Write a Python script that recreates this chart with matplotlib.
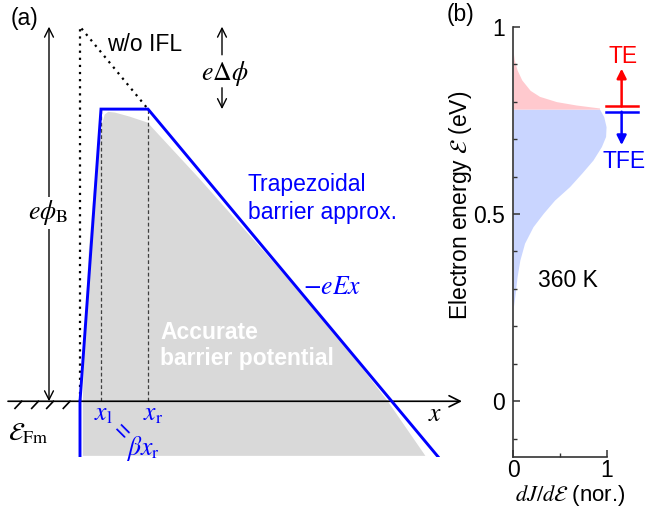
import matplotlib
matplotlib.use('Agg')
import matplotlib.pyplot as plt

plt.rcParams['font.family'] = ['Liberation Sans', 'DejaVu Sans']
plt.rcParams['mathtext.fontset'] = 'stix'

W, H = 646, 509
FS = 16.5

# ---------------- Panel (a): schematic barrier (x: arb. length units, E: eV) -------------
trap_x = [0, 0, 21, 68, 358]
trap_y = [-0.148, 0.0, 0.78, 0.78, -0.148]
acc_x = [2, 2, 4, 8, 13, 17, 21, 24, 28, 35, 50, 68, 120, 190, 250, 308, 347]
acc_y = [-0.148, 0.003, 0.19, 0.404, 0.564, 0.652, 0.738, 0.767, 0.775, 0.773,
         0.762, 0.746, 0.596, 0.385, 0.203, 0.003, -0.148]
noifl_x = [0, 0, 68]
noifl_y = [0.0, 1.0, 0.78]
x_l, x_r = 21, 68
barrier_top = 0.78
phiB = 1.0
hatch_x = [-65, -48.3, -33.3, -16.7]

# ---------------- Panel (b): energy distribution ------------------------------------------
te_E = [0.78, 0.783, 0.791, 0.80, 0.814, 0.83, 0.858, 0.885, 0.912, 0.93]
te_J = [0.92, 0.92, 0.67, 0.46, 0.28, 0.18, 0.09, 0.04, 0.01, 0.0]
tfe_E = [0.25, 0.288, 0.332, 0.377, 0.422, 0.466, 0.502, 0.537, 0.573, 0.609,
         0.644, 0.68, 0.707, 0.733, 0.76, 0.78]
tfe_J = [0.0, 0.02, 0.04, 0.07, 0.12, 0.21, 0.32, 0.44, 0.6, 0.73,
         0.85, 0.94, 0.985, 0.99, 0.965, 0.92]
yticks_major = [0, 0.5, 1]
yticklabels = ['0', '0.5', '1']
yticks_minor = [-0.1, 0.1, 0.2, 0.3, 0.4, 0.6, 0.7, 0.8, 0.9]
xticks_major = [0, 1]
xticklabels = ['0', '1']
xticks_minor = [0.5]

BLUE = '#0000FF'
RED = '#FF0000'
YMIN, YMAX = -0.148, 1.0

fig = plt.figure(figsize=(W / 100, H / 100), dpi=100)

# ---- panel (a)
ax = fig.add_axes([0, (H - 456.7) / H, 470 / W, 430 / H])
ax.set_xlim(-80, 390)
ax.set_ylim(YMIN, YMAX)
ax.axis('off')

ax.fill(acc_x, acc_y, facecolor='#D9D9D9', edgecolor='white', lw=1.2, zorder=1)
ax.plot([x_l, x_l], [0, barrier_top], color='#404040', lw=0.9, ls=(0, (3, 2)), zorder=2)
ax.plot([x_r, x_r], [0, barrier_top], color='#404040', lw=0.9, ls=(0, (3, 2)), zorder=2)
ax.plot(noifl_x, noifl_y, color='black', lw=1.6, ls=(0, (1, 2.2)), zorder=2)

ax.annotate('', xy=(382, 0), xytext=(-72, 0),
            arrowprops=dict(arrowstyle='->', lw=1.2, color='black', shrinkA=0, shrinkB=0,
                            mutation_scale=20), zorder=3)
for hx in hatch_x:
    ax.plot([hx, hx + 6.7], [-0.019, 0.0], color='black', lw=1.2, zorder=3)

ax.plot(trap_x, trap_y, color=BLUE, lw=2.1, solid_joinstyle='miter', zorder=4)

# e phi_B arrow
ax.annotate('', xy=(-31, phiB), xytext=(-31, 0),
            arrowprops=dict(arrowstyle='<->', lw=1.0, color='black', shrinkA=0, shrinkB=0,
                            mutation_scale=16), zorder=3)
ax.text(-32, 0.503, r'$e\phi_{\rm B}$', fontsize=18.5, ha='center', va='center',
        bbox=dict(facecolor='white', edgecolor='none', pad=1), zorder=5)

# e delta phi arrows
ax.annotate('', xy=(142, phiB), xytext=(142, 0.925),
            arrowprops=dict(arrowstyle='->', lw=1.0, color='black', shrinkA=0, shrinkB=0,
                            mutation_scale=16))
ax.annotate('', xy=(142, barrier_top), xytext=(142, 0.837),
            arrowprops=dict(arrowstyle='->', lw=1.0, color='black', shrinkA=0, shrinkB=0,
                            mutation_scale=16))
ax.text(145, 0.874, r'$e\Delta\phi$', fontsize=18.5, ha='center', va='center')

ax.text(65, 0.952, 'w/o IFL', fontsize=FS, ha='center', va='center')
ax.text(168, 0.578, 'Trapezoidal', fontsize=FS, ha='left', va='center', color=BLUE)
ax.text(168, 0.503, 'barrier approx.', fontsize=FS, ha='left', va='center', color=BLUE)
ax.text(252, 0.305, r'$-eEx$', fontsize=18.5, ha='center', va='center', color=BLUE)
ax.text(80, 0.184, 'Accurate', fontsize=FS, ha='left', va='center', color='white',
        fontweight='bold')
ax.text(80, 0.115, 'barrier potential', fontsize=FS, ha='left', va='center',
        color='white', fontweight='bold')
ax.text(-52, -0.086, r'$\mathcal{E}_{\rm Fm}$', fontsize=18.5, ha='center', va='center')
ax.text(23, -0.035, r'$x_{\rm l}$', fontsize=18.5, ha='center', va='center', color=BLUE)
ax.text(73, -0.035, r'$x_{\rm r}$', fontsize=18.5, ha='center', va='center', color=BLUE)
ax.text(41, -0.083, '=', fontsize=18, ha='center', va='center', color=BLUE, rotation=-45)
ax.text(63, -0.126, r'$\beta x_{\rm r}$', fontsize=18.5, ha='center', va='center', color=BLUE)
ax.text(355, -0.035, r'$x$', fontsize=18.5, ha='center', va='center')

fig.text(25 / W, 1 - 18 / H, '(a)', fontsize=FS, ha='center', va='center')
fig.text(460 / W, 1 - 15 / H, '(b)', fontsize=FS, ha='center', va='center')

# ---- panel (b)
bx = fig.add_axes([513.3 / W, (H - 456.7) / H, 93.7 / W, 430 / H])
bx.fill_betweenx(tfe_E, 0, tfe_J, color='#C9D5FF', lw=0)
bx.fill_betweenx(te_E, 0, te_J, color='#FFC9CE', lw=0)
bx.set_xlim(0, 1)
bx.set_ylim(YMIN, YMAX)
for s in ['top', 'right']:
    bx.spines[s].set_visible(False)
for s in ['left', 'bottom']:
    bx.spines[s].set_color('#333333')
    bx.spines[s].set_linewidth(1.2)
bx.set_yticks(yticks_major)
bx.set_yticklabels(yticklabels)
bx.set_yticks(yticks_minor, minor=True)
bx.set_xticks(xticks_major)
bx.set_xticklabels(xticklabels)
bx.set_xticks(xticks_minor, minor=True)
bx.tick_params(which='both', direction='in', color='#333333', labelsize=FS)
bx.tick_params(axis='y', pad=6)
bx.tick_params(axis='x', pad=2)
bx.tick_params(which='major', length=5, width=1.1)
bx.tick_params(which='minor', length=3, width=1.0)
ylab = bx.set_ylabel(r'Electron energy $\mathcal{E}$ (eV)', fontsize=FS)
bx.yaxis.set_label_coords((460 - 513.3) / 93.7, (456.7 - 205) / 430)
ylab.set_verticalalignment('center')
xlab = bx.set_xlabel(r'$dJ/d\mathcal{E}$ (nor.)', fontsize=16)
bx.xaxis.set_label_coords((570 - 513.3) / 93.7, -(495.5 - 456.7) / 430)
xlab.set_verticalalignment('center')

# TE / TFE markers
bx.plot([0.986, 1.327], [0.787, 0.787], color=RED, lw=1.8, clip_on=False)
bx.plot([0.986, 1.327], [0.773, 0.773], color=BLUE, lw=1.8, clip_on=False)
bx.annotate('', xy=(1.156, 0.888), xytext=(1.156, 0.787), annotation_clip=False,
            arrowprops=dict(arrowstyle='-|>', lw=1.8, color=RED, shrinkA=0, shrinkB=0,
                            mutation_scale=14))
bx.annotate('', xy=(1.156, 0.684), xytext=(1.156, 0.773), annotation_clip=False,
            arrowprops=dict(arrowstyle='-|>', lw=1.8, color=BLUE, shrinkA=0, shrinkB=0,
                            mutation_scale=14))
bx.text(1.167, 0.92, 'TE', fontsize=FS, ha='center', va='center', color=RED, clip_on=False)
bx.text(1.186, 0.639, 'TFE', fontsize=FS, ha='center', va='center', color=BLUE, clip_on=False)
bx.text(0.585, 0.323, '360 K', fontsize=FS, ha='center', va='center')

fig.savefig('out.png', dpi=100)
